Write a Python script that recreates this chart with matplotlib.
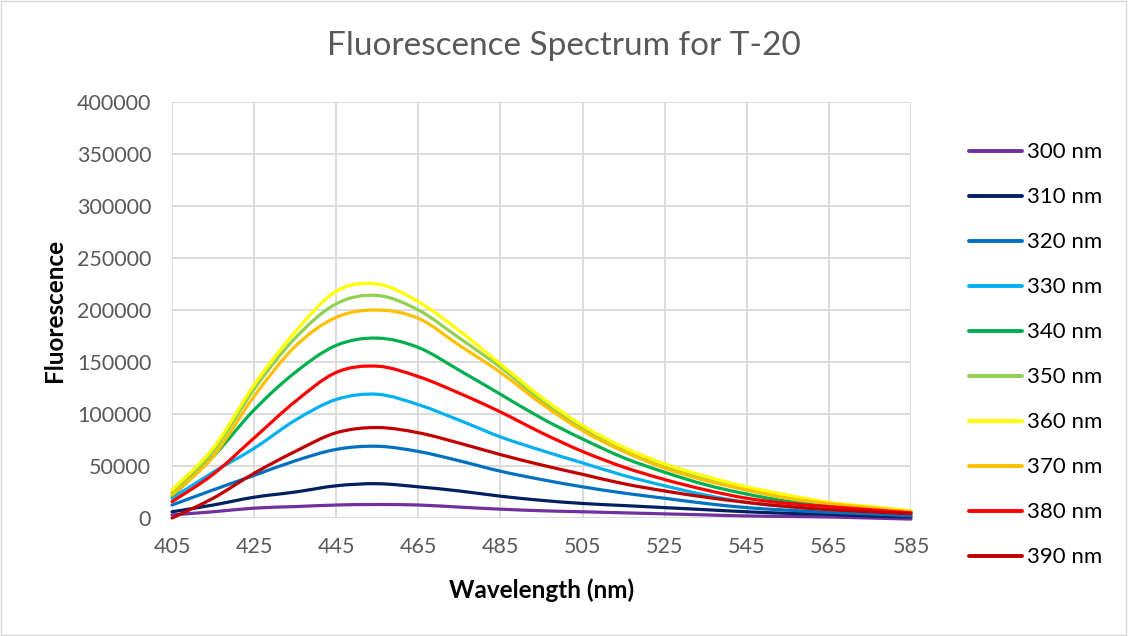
import matplotlib
matplotlib.use("Agg")
from matplotlib import pyplot as plt
from matplotlib.path import Path
from matplotlib.patches import PathPatch, Rectangle
from matplotlib.lines import Line2D
from matplotlib.ticker import FuncFormatter
import numpy as np

plt.rcParams['font.family'] = ['Lato', 'DejaVu Sans']

# wavelength (nm) and fluorescence (thousands of counts) per excitation wavelength
wavelength = [405, 415, 425, 435, 445, 455, 465, 475, 485, 495, 505, 515, 525, 535, 545, 555, 565, 575, 585]
ex300 = [3, 6, 9.5, 11, 12.5, 13, 12.5, 10.5, 8.5, 7, 6, 5, 4, 3, 2, 1.5, 1, 0, -1]
ex310 = [6, 12.5, 20, 25, 31, 33, 30, 26, 21, 17, 14, 12, 10, 8, 6, 4.5, 3.5, 2, 1]
ex320 = [12.5, 27, 41, 55, 66, 69, 64, 55, 45, 37, 30, 24, 19, 14, 10, 7.5, 5.5, 4, 2]
ex330 = [19, 44, 67, 94, 114, 119, 109, 94, 78, 65, 53, 41, 31, 22, 15, 11, 8, 6, 4]
ex340 = [21, 59, 104, 140, 166, 173, 164, 142, 119, 96, 76, 58, 44, 32, 23, 16, 12, 9, 6]
ex350 = [24, 64, 124, 173, 206, 214, 200, 173, 145, 113, 86, 65, 49, 37, 27, 19, 14, 10, 6]
ex360 = [27, 67, 128, 179, 218, 225, 208, 180, 148, 116, 89, 68, 52, 40, 30, 22, 15, 11, 7]
ex370 = [22, 59, 117, 165, 193, 200, 192, 166, 140, 110, 84, 64, 48, 36, 27, 19, 14, 10, 6]
ex380 = [15.7, 42, 77, 112, 140, 146, 136, 120, 102, 82, 64, 49, 37, 27, 19, 14, 11, 8, 5]
ex390 = [0, 19, 43, 64, 82, 87, 82, 72, 61, 51, 42, 33, 26, 20, 15, 11, 8, 6, 4]

labels = ["300 nm", "310 nm", "320 nm", "330 nm", "340 nm", "350 nm", "360 nm", "370 nm", "380 nm", "390 nm"]
series = [ex300, ex310, ex320, ex330, ex340, ex350, ex360, ex370, ex380, ex390]
colors = ["#7030A0", "#002060", "#0070C0", "#00B0F0", "#00B050", "#92D050", "#FFFF00", "#FFC000", "#FF0000", "#C00000"]


def smoothPath(x, y):
    # Excel-style smoothed line: cubic Bezier segments through the points
    p = np.column_stack([x, y]).astype(float)
    ext = np.vstack([p[0], p, p[-1]])
    verts = [p[0]]
    codes = [Path.MOVETO]
    for i in range(len(p) - 1):
        c1 = ext[i + 1] + (ext[i + 2] - ext[i]) / 6
        c2 = ext[i + 2] - (ext[i + 3] - ext[i + 1]) / 6
        verts += [c1, c2, ext[i + 2]]
        codes += [Path.CURVE4] * 3
    return Path(verts, codes)


fig = plt.figure(figsize=(11.28, 6.36), dpi=100)
ax = fig.add_axes([0.1525, 0.1855, 0.6551, 0.6541])
grey = "#595959"

handles = []
for vals, col, lab in zip(series, colors, labels):
    yv = np.array(vals) * 1000
    patch = PathPatch(smoothPath(wavelength, yv), facecolor="none", edgecolor=col,
                      linewidth=2.3, capstyle="round", joinstyle="round", zorder=3)
    patch.set_clip_on(False)
    ax.add_patch(patch)
    handles.append(Line2D([], [], color=col, linewidth=2.8, solid_capstyle="round"))

ax.set_xlim(405, 585)
ax.set_ylim(0, 400000)
ax.set_xticks(range(405, 586, 20))
ax.set_yticks(range(0, 400001, 50000))
ax.yaxis.set_major_formatter(FuncFormatter(lambda v, p: "{0:d}".format(int(v))))
ax.grid(True, color="#d9d9d9", linewidth=1.3)
ax.set_axisbelow(True)
for s in ax.spines.values():
    s.set_visible(False)
ax.tick_params(length=0, labelsize=15.5, labelcolor=grey)
ax.tick_params(axis="y", pad=15)
ax.tick_params(axis="x", pad=14)

ax.set_xlabel("Wavelength (nm)", fontsize=17.5, fontweight="bold", color="black")
ax.set_ylabel("Fluorescence", fontsize=17.5, fontweight="bold", color="black")
ax.xaxis.set_label_coords(0.5, -0.145)
ax.yaxis.set_label_coords(-0.143, 0.5)

fig.text(0.5, 0.928, "Fluorescence Spectrum for T-20", ha="center", va="center",
         fontsize=24, color=grey)

fig.legend(handles, labels, loc="upper left", bbox_to_anchor=(0.851, 0.790),
           frameon=False, fontsize=16, handlelength=2.4, handletextpad=0.22,
           labelspacing=1.125, borderaxespad=0)

fig.patches.append(Rectangle((0.001, 0.002), 0.997, 0.996, transform=fig.transFigure,
                             fill=False, edgecolor="#d9d9d9", linewidth=1))

plt.savefig("out.png", dpi=100)
